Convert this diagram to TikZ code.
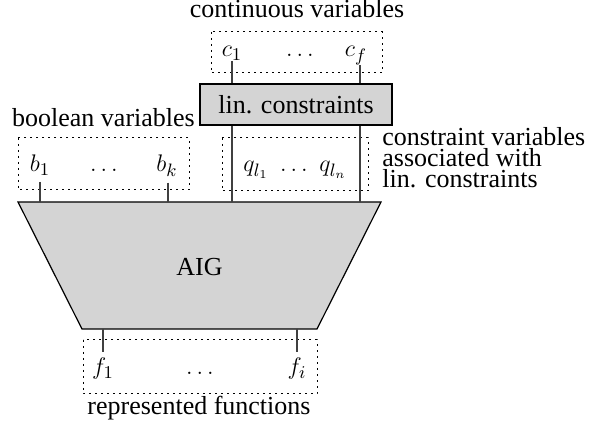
\documentclass[tikz,border=0pt]{standalone}
\usepackage[no-math]{fontspec}
\setmainfont{Liberation Serif}
\begin{document}
\begin{tikzpicture}[x=0.5pt,y=-0.5pt,
  font=\fontsize{13}{15}\selectfont,
  txt/.style={anchor=base, inner sep=0pt},
  dotbox/.style={line width=0.5pt, dash pattern=on 0.9pt off 2.1pt},
  conn/.style={line width=0.6pt, draw=black!75},
  graybox/.style={fill=black!17, draw=black, line width=0.6pt, minimum width=96pt, minimum height=20.5pt, inner sep=0pt},
  aigshape/.style={fill=black!17, draw=black, line width=0.6pt}]
\useasboundingbox (0,0) rectangle (589,426);
% continuous variables
\node[txt] (cv) at (297,18) {continuous variables};
\draw[dotbox] (211,32) rectangle (382,73);
\node[txt] (c1) at (232,57) {$c_1$};
\node[txt] (cd) at (300,57) {$\ldots$};
\node[txt] (cf) at (356,57) {$c_f$};
\node[graybox] (lin) at (296,104.5) {lin. constraints};
% boolean variables
\node[txt] (bv) at (103.5,127) {boolean variables};
\draw[dotbox] (18,138) rectangle (189,190);
\node[txt] (b1) at (40,172) {$b_1$};
\node[txt] (bd) at (104,172) {$\ldots$};
\node[txt] (bk) at (167,172) {$b_k$};
% constraint variables
\draw[dotbox] (222,138) rectangle (368,191);
\node[txt] (q1) at (256,172) {$q_{l_1}$};
\node[txt] (qd) at (294,172) {$\ldots$};
\node[txt] (qn) at (333,172) {$q_{l_n}$};
\node[anchor=north west, align=left, inner sep=0pt, font=\fontsize{13}{10.4}\selectfont] (cvl) at (382,127) {constraint variables\\associated with\\lin. constraints};
% AIG
\draw[aigshape] (18,202) -- (381,202) -- (317,329) -- (82,329) -- cycle;
\coordinate (aigtop) at (0,202);
\coordinate (aigbot) at (0,329);
\node (aig) at (199.5,267) {AIG};
% represented functions
\draw[dotbox] (83,340) rectangle (317,394);
\node[txt] (f1) at (103,375) {$f_1$};
\node[txt] (fd) at (200,375) {$\ldots$};
\node[txt] (fi) at (297,375) {$f_i$};
\node[txt] (rf) at (199,415) {represented functions};
% connectors
\draw[conn] (c1.south) -- (c1.south |- lin.north);
\draw[conn] ([xshift=2pt]cf.south) -- ([xshift=2pt]cf.south |- lin.north);
\draw[conn] (lin.south -| c1) -- (c1 |- aigtop);
\draw[conn] ([xshift=2pt]lin.south -| cf) -- ([xshift=2pt]cf |- aigtop);
\draw[conn] ([yshift=-3pt]b1.south) -- (b1 |- aigtop);
\draw[conn] ([yshift=-3pt,xshift=0.5pt]bk.south) -- ([xshift=0.5pt]bk |- aigtop);
\draw[conn] (f1 |- aigbot) -- ([yshift=3pt]f1.north);
\draw[conn] (fi |- aigbot) -- ([yshift=3pt]fi.north);
\end{tikzpicture}
\end{document}
